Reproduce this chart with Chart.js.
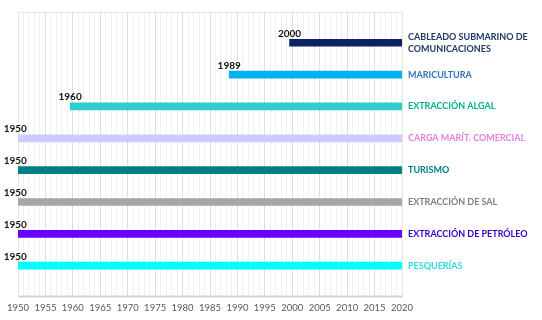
<!DOCTYPE html>
<html>
<head>
<meta charset="utf-8">
<script src="https://cdn.jsdelivr.net/npm/chart.js@4.4.1/dist/chart.umd.min.js"></script>
<style>
  html, body { margin: 0; padding: 0; background: #fff; }
  #wrap { width: 542px; height: 320px; }
</style>
</head>
<body>
<div id="wrap"><canvas id="timelineChart"></canvas></div>
<script>
// Actividades (de arriba hacia abajo)
const categories = [
  ['CABLEADO SUBMARINO DE', 'COMUNICACIONES'],
  'MARICULTURA',
  'EXTRACCIÓN ALGAL',
  'CARGA MARÍT. COMERCIAL',
  'TURISMO',
  'EXTRACCIÓN DE SAL',
  'EXTRACCIÓN DE PETRÓLEO',
  'PESQUERÍAS'
];
const startYears = [2000, 1989, 1960, 1950, 1950, 1950, 1950, 1950];
const endYear = 2020;
const xTickLabels = [1950, 1955, 1960, 1965, 1970, 1975, 1980, 1985, 1990, 1995, 2000, 2005, 2010, 2015, 2020];

const barColors = ['#0b2265', '#00b0f0', '#33cccc', '#ccccff', '#008080', '#a6a6a6', '#6600ff', '#00ffff'];
const labelColors = ['#1f3864', '#2e75b6', '#00b08c', '#e47fe4', '#008080', '#7f7f7f', '#3300cc', '#33d6e0'];

const n = categories.length;

// fila n arriba, fila 1 abajo
const barData = startYears.map((s, i) => ({ x: [s - 0.5, endYear], y: n - i }));

// Etiqueta del año de inicio sobre cada barra
const startLabels = {
  id: 'startLabels',
  afterDatasetsDraw(chart) {
    const ctx = chart.ctx;
    const xs = chart.scales.x;
    const meta = chart.getDatasetMeta(0);
    ctx.save();
    ctx.font = 'bold 10px Lato, "Open Sans", sans-serif';
    ctx.fillStyle = '#111';
    ctx.textAlign = 'center';
    ctx.textBaseline = 'alphabetic';
    meta.data.forEach((bar, i) => {
      const x = xs.getPixelForValue(startYears[i] - 0.5);
      ctx.fillText(String(startYears[i]), x, bar.y - 6);
    });
    ctx.restore();
  }
};

// Marco del área de trazado
const plotFrame = {
  id: 'plotFrame',
  beforeDatasetsDraw(chart) {
    const a = chart.chartArea;
    const ctx = chart.ctx;
    ctx.save();
    ctx.lineWidth = 1;
    ctx.strokeStyle = '#e0edd2';
    ctx.beginPath();
    ctx.moveTo(a.left + 0.5, a.bottom);
    ctx.lineTo(a.left + 0.5, a.top + 0.5);
    ctx.lineTo(a.right + 0.5, a.top + 0.5);
    ctx.lineTo(a.right + 0.5, a.bottom);
    ctx.stroke();
    ctx.strokeStyle = '#d4d4d4';
    ctx.lineWidth = 2;
    ctx.beginPath();
    ctx.moveTo(a.left, a.bottom);
    ctx.lineTo(a.right + 1, a.bottom);
    ctx.stroke();
    ctx.restore();
  }
};

const ctx = document.getElementById('timelineChart').getContext('2d');
const myChart = new Chart(ctx, {
  type: 'bar',
  data: {
    datasets: [{
      data: barData,
      backgroundColor: barColors,
      borderWidth: 0,
      barThickness: 7
    }]
  },
  options: {
    indexAxis: 'y',
    responsive: true,
    maintainAspectRatio: false,
    animation: false,
    layout: { padding: { left: 18, top: 10, bottom: 0, right: 0 } },
    plugins: {
      legend: { display: false },
      tooltip: { enabled: false }
    },
    scales: {
      x: {
        type: 'linear',
        min: 1950,
        max: 2020,
        border: { display: false },
        grid: {
          drawTicks: false,
          color: (c) => (c.tick && xTickLabels.includes(c.tick.value)) ? '#dedede' : '#f1f1f1'
        },
        ticks: {
          stepSize: 1,
          autoSkip: false,
          maxRotation: 0,
          padding: 6,
          color: '#595959',
          font: { family: 'Lato, "Open Sans", sans-serif', size: 9.5 },
          callback: (v) => xTickLabels.includes(v) ? String(v) : ''
        }
      },
      y: {
        type: 'linear',
        position: 'right',
        offset: false,
        min: 0.03,
        max: 8.97,
        border: { display: false },
        grid: { display: false, drawTicks: false },
        afterBuildTicks: (scale) => {
          scale.ticks = categories.map((c, i) => ({ value: n - i }));
        },
        afterFit: (scale) => { scale.width = 140; },
        ticks: {
          padding: 6,
          autoSkip: false,
          font: { family: 'Lato, "Open Sans", sans-serif', size: 9, weight: 'bold', lineHeight: 1.3 },
          color: (c) => labelColors[n - c.tick.value],
          callback: (v) => categories[n - v]
        }
      }
    }
  },
  plugins: [plotFrame, startLabels]
});
</script>
</body>
</html>
